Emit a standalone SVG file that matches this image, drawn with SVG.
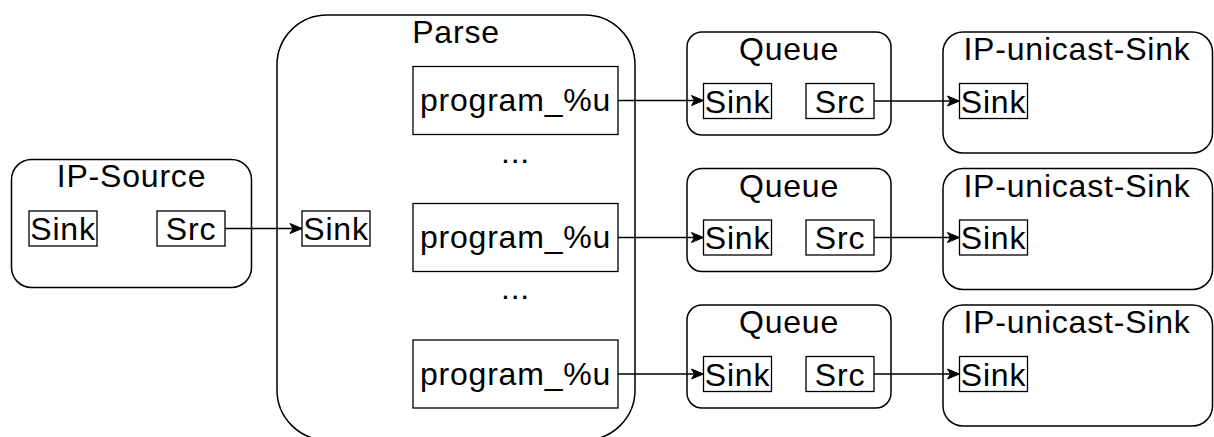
<svg xmlns="http://www.w3.org/2000/svg" width="1214" height="437" viewBox="0 0 1214 437">
  <style>
    .box { fill: #ffffff; stroke: #000000; stroke-width: 1.5; }
    .port { fill: #ffffff; stroke: #000000; stroke-width: 1.3; }
    .t { font-family: "Liberation Sans", Arial, Helvetica, sans-serif; font-size: 32px; letter-spacing: 0.8px; fill: #000000; text-anchor: middle; }
    .link { fill: none; stroke: #000000; stroke-width: 1.5; marker-end: url(#arrow); }
  </style>
  <defs>
    <marker id="arrow" markerUnits="userSpaceOnUse" markerWidth="14" markerHeight="12" refX="13" refY="6" orient="auto">
      <path d="M1,1 L13,6 L1,11 L4,6 z" fill="#000000" stroke="#000000" stroke-width="1"/>
    </marker>
  </defs>

  <rect width="1214" height="437" fill="#ffffff"/>

  <!-- source element -->
  <g id="ip-source">
    <rect class="box" x="11.5" y="159.5" width="240" height="128" rx="20"/>
    <text class="t" x="131.5" y="187">IP-Source</text>
    <rect class="port" x="29" y="211" width="68" height="35"/>
    <text class="t" x="63" y="240">Sink</text>
    <rect class="port" x="157" y="211" width="68" height="35"/>
    <text class="t" x="191" y="240">Src</text>
  </g>

  <!-- demuxer element -->
  <g id="parse">
    <rect class="box" x="277" y="15" width="358" height="425" rx="50"/>
    <text class="t" x="456" y="43">Parse</text>
    <rect class="port" x="302" y="211" width="68" height="35"/>
    <text class="t" x="336" y="240">Sink</text>
    <rect class="port" x="413" y="66.5" width="205" height="68"/>
    <text class="t" x="515.5" y="111">program_%u</text>
    <text class="t" x="515.5" y="163">...</text>
    <rect class="port" x="413" y="203.5" width="205" height="68"/>
    <text class="t" x="515.5" y="248">program_%u</text>
    <text class="t" x="515.5" y="299">...</text>
    <rect class="port" x="413" y="340" width="205" height="68"/>
    <text class="t" x="515.5" y="384.5">program_%u</text>
  </g>

  <!-- queues -->
  <g id="queue-1">
    <rect class="box" x="687" y="32" width="204" height="103" rx="15"/>
    <text class="t" x="789" y="60">Queue</text>
    <rect class="port" x="703.5" y="83.5" width="68" height="35"/>
    <text class="t" x="737.5" y="112.5">Sink</text>
    <rect class="port" x="806" y="83.5" width="68" height="35"/>
    <text class="t" x="840" y="112.5">Src</text>
  </g>
  <g id="queue-2">
    <rect class="box" x="687" y="168.5" width="204" height="103" rx="15"/>
    <text class="t" x="789" y="196.5">Queue</text>
    <rect class="port" x="703.5" y="220" width="68" height="35"/>
    <text class="t" x="737.5" y="249">Sink</text>
    <rect class="port" x="806" y="220" width="68" height="35"/>
    <text class="t" x="840" y="249">Src</text>
  </g>
  <g id="queue-3">
    <rect class="box" x="687" y="305" width="204" height="103" rx="15"/>
    <text class="t" x="789" y="333">Queue</text>
    <rect class="port" x="703.5" y="356.5" width="68" height="35"/>
    <text class="t" x="737.5" y="385.5">Sink</text>
    <rect class="port" x="806" y="356.5" width="68" height="35"/>
    <text class="t" x="840" y="385.5">Src</text>
  </g>

  <!-- unicast sinks -->
  <g id="ip-unicast-sink-1">
    <rect class="box" x="943" y="32" width="269.5" height="121" rx="20"/>
    <text class="t" x="1077" y="60">IP-unicast-Sink</text>
    <rect class="port" x="959.5" y="83.5" width="68" height="35"/>
    <text class="t" x="993.5" y="112.5">Sink</text>
  </g>
  <g id="ip-unicast-sink-2">
    <rect class="box" x="943" y="168.5" width="269.5" height="121" rx="20"/>
    <text class="t" x="1077" y="196.5">IP-unicast-Sink</text>
    <rect class="port" x="959.5" y="220" width="68" height="35"/>
    <text class="t" x="993.5" y="249">Sink</text>
  </g>
  <g id="ip-unicast-sink-3">
    <rect class="box" x="943" y="305" width="269.5" height="121" rx="20"/>
    <text class="t" x="1077" y="333">IP-unicast-Sink</text>
    <rect class="port" x="959.5" y="356.5" width="68" height="35"/>
    <text class="t" x="993.5" y="385.5">Sink</text>
  </g>

  <!-- pad links -->
  <g id="connectors">
    <path class="link" d="M225,228.5 L302,228.5"/>
    <path class="link" d="M618,100.5 L703.5,100.5"/>
    <path class="link" d="M618,237.5 L703.5,237.5"/>
    <path class="link" d="M618,374 L703.5,374"/>
    <path class="link" d="M874,101 L959.5,101"/>
    <path class="link" d="M874,237.5 L959.5,237.5"/>
    <path class="link" d="M874,374 L959.5,374"/>
  </g>
</svg>
